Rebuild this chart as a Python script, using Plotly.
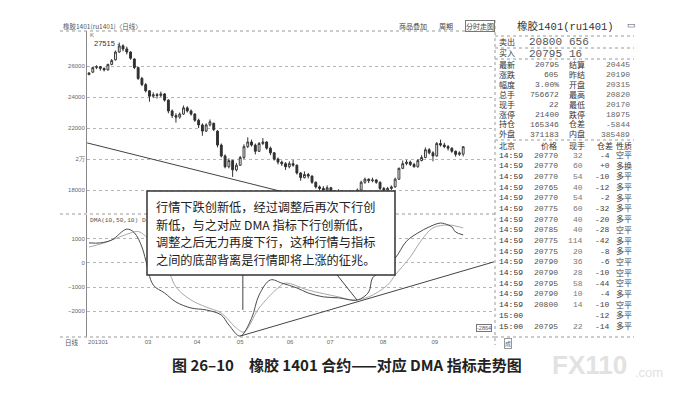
import plotly.graph_objects as go

W, H = 678, 403

# ── 日线 K 线 (trading-day index 0..99) ─────────────────────────────
opens = [25450, 25600, 25900, 25950, 25850, 25750, 26100, 26400, 26900, 27300,
         27100, 26900, 26450, 25900, 25200, 24800, 24400, 24050, 24150, 24100,
         24200, 23800, 23100, 22800, 22700, 22900, 23300, 23100, 22900, 22500,
         22200, 21800, 22200, 22300, 21800, 20900, 20200, 19500, 19900, 19300,
         19600, 20100, 20800, 21100, 20900, 20500, 21000, 21100, 20700, 20400,
         20000, 19800, 19700, 19500, 19700, 19600, 19100, 18800, 19000, 18900,
         18500, 18200, 18100, 18000, 18150, 17900, 17800, 17900, 17850, 17750,
         17900, 17850, 18000, 18500, 18700, 18600, 18650, 18500, 18100, 18000,
         18100, 18200, 18700, 19400, 19700, 19800, 19650, 19500, 19900, 20100,
         20600, 20400, 20200, 21000, 20900, 20800, 20700, 20500, 20300, 20315]
highs = [25600, 25950, 26050, 26000, 25900, 26150, 26450, 27000, 27515, 27400,
         27250, 26950, 26500, 25950, 25300, 24900, 24450, 24300, 24250, 24350,
         24250, 23850, 23200, 22950, 23000, 23450, 23400, 23200, 22950, 22600,
         22300, 22300, 22550, 22350, 21850, 21000, 20300, 20050, 19950, 19750,
         20200, 20950, 21400, 21250, 21000, 21100, 21350, 21150, 20800, 20450,
         20100, 19900, 19800, 19850, 19950, 19650, 19150, 19200, 19100, 18950,
         18550, 18300, 18250, 18300, 18200, 18000, 18050, 18000, 17950, 18000,
         17950, 18100, 18600, 18800, 18750, 18800, 18700, 18550, 18200, 18200,
         18300, 18800, 19450, 19900, 19950, 19900, 19750, 20000, 20250, 20750,
         20700, 20500, 21100, 21250, 21050, 20900, 20750, 20550, 20500, 20820]
lows = [25400, 25550, 25800, 25700, 25650, 25700, 26050, 26350, 26850, 26950,
        26750, 26400, 25800, 25100, 24700, 24300, 23700, 23950, 23900, 24000,
        23700, 22950, 22650, 22350, 22600, 22850, 23000, 22800, 22400, 22000,
        21500, 21750, 22100, 21800, 20750, 20100, 19400, 19400, 18850, 19200,
        19550, 20000, 20700, 20800, 20300, 20450, 20900, 20600, 20250, 19900,
        19650, 19550, 19300, 19400, 19500, 19000, 18600, 18750, 18750, 18400,
        18100, 17950, 17900, 17950, 17800, 17700, 17750, 17750, 17650, 17700,
        17750, 17800, 17950, 18400, 18450, 18500, 18400, 18000, 17900, 17900,
        18000, 18150, 18650, 19350, 19600, 19550, 19450, 19450, 19850, 20050,
        20300, 19850, 20150, 20800, 20700, 20550, 20400, 20150, 20200, 20170]
closes = [25550, 25900, 25950, 25850, 25750, 26100, 26350, 26900, 27300, 27100,
          26900, 26500, 25900, 25200, 24800, 24400, 24050, 24150, 24100, 24200,
          23800, 23100, 22800, 22700, 22900, 23300, 23100, 22900, 22500, 22200,
          21800, 22200, 22400, 21900, 20900, 20200, 19500, 19900, 19300, 19600,
          20100, 20800, 21100, 20900, 20500, 21000, 21100, 20700, 20400, 20000,
          19800, 19700, 19500, 19700, 19600, 19100, 18800, 19000, 18900, 18500,
          18200, 18100, 18000, 18150, 17900, 17800, 17900, 17850, 17750, 17900,
          17850, 18000, 18500, 18700, 18600, 18650, 18500, 18100, 18000, 18100,
          18200, 18700, 19400, 19700, 19800, 19650, 19500, 19900, 20100, 20600,
          20400, 20200, 21000, 20900, 20800, 20700, 20500, 20300, 20400, 20795]

month_pos = [2.4, 15.6, 28.6, 40, 53.2, 63.8, 77.8, 91.5]
month_labels = ["201301", "03", "04", "05", "06", "07", "08", "09"]

price_ticks = [26000, 24000, 22000, 20000, 18000]
price_tick_labels = ["26000", "24000", "22000", "2万", "18000"]
dma_ticks = [1000, 0, -1000, -2000]

# ── DMA(10,50,10) ───────────────────────────────────────────────────
dma_x = [0, 3, 6, 10, 12, 14, 15, 17, 20, 23, 27, 31, 35, 37, 40, 43, 45, 48,
         51, 55, 58, 62, 66, 71, 74, 75, 77, 81, 84, 87, 90, 93, 95, 96, 97, 99]
dma_y = [830, 830, 950, 1400, 1250, 660, 120, -910, -1240, -1610, -1860, -1940,
         -2150, -2560, -3020, -2290, -1320, -700, -830, -1030, -1240, -1400,
         -1440, -1530, -1200, -620, -370, 200, 900, 1240, 1490, 1650, 1570,
         1490, 1280, 1160]
ama_x = [0, 4, 8, 11, 13, 15, 20, 23, 27, 31, 35, 39, 41, 45, 50, 52, 58, 66,
         70, 74, 79, 81, 85, 88, 91, 95, 98, 99]
ama_y = [660, 830, 1070, 1240, 1300, 1100, 120, -990, -1530, -1820, -2070,
         -2690, -2850, -1860, -1030, -830, -1120, -1400, -1530, -1400, -910,
         -500, 250, 950, 1450, 1570, 1490, 1450]

# lines drawn by hand in the book
trend_price_x = [-0.5, 60]
trend_price_y = [21040, 17356]
trend_dma_x = [40, 107.2]
trend_dma_y = [-3020, 50]
pointer_a_x = [40.7, 40.7]
pointer_a_y = [-300, -1940]
pointer_b_x = [64.6, 70.9]
pointer_b_y = [-290, -1530]

# ── 报价板 ──────────────────────────────────────────────────────────
left_labels = ["最新", "涨跌", "幅度", "总手", "现手", "涨停", "持仓", "外盘"]
left_values = ["20795", "605", "3.00%", "756672", "22", "21400", "165346", "371183"]
right_labels = ["结算", "昨结", "开盘", "最高", "最低", "跌停", "仓差", "内盘"]
right_values = ["20445", "20190", "20315", "20820", "20170", "18975", "-5844", "385489"]

tick_times = ["14:59"] * 15 + ["15:00", "15:00"]
tick_prices = ["20770", "20770", "20770", "20765", "20770", "20775", "20770", "20785",
               "20775", "20775", "20790", "20790", "20795", "20790", "20800", "", "20795"]
tick_vols = ["32", "60", "54", "40", "54", "60", "40", "40", "114", "20", "36", "28",
             "58", "10", "14", "", "22"]
tick_oi = ["-4", "+0", "-10", "-12", "-2", "-32", "-20", "-28", "-42", "-8", "-6",
           "-10", "-44", "-4", "-10", "-12", "-14"]
tick_types = ["空平", "多换", "多平", "多平", "多平", "多平", "多平", "空平", "多平", "多平",
              "空平", "空平", "空平", "多平", "空平", "多平", "多平"]

note_lines = ["行情下跌创新低，经过调整后再次下行创",
              "新低，与之对应 DMA 指标下行创新低，",
              "调整之后无力再度下行，这种行情与指标",
              "之间的底部背离是行情即将上涨的征兆。"]

MONO = "Liberation Mono, Noto Sans CJK SC"
CJK = "Noto Sans CJK SC"


def px(x):
    return x / W


def py(y):
    return 1 - y / H


fig = go.Figure()

fig.add_trace(go.Candlestick(
    x=list(range(len(closes))), open=opens, high=highs, low=lows, close=closes,
    increasing=dict(line=dict(color="#383838", width=1), fillcolor="#ffffff"),
    decreasing=dict(line=dict(color="#303030", width=1), fillcolor="#303030"),
    whiskerwidth=0, hoverinfo="skip", showlegend=False, xaxis="x", yaxis="y",
))
fig.add_trace(go.Scatter(x=trend_price_x, y=trend_price_y, mode="lines",
                         line=dict(color="#444", width=1), hoverinfo="skip",
                         showlegend=False, xaxis="x", yaxis="y"))

fig.add_trace(go.Scatter(x=ama_x, y=ama_y, mode="lines", line_shape="spline",
                         line=dict(color="#a8a8a8", width=1), hoverinfo="skip",
                         showlegend=False, xaxis="x2", yaxis="y2"))
fig.add_trace(go.Scatter(x=dma_x, y=dma_y, mode="lines", line_shape="spline",
                         line=dict(color="#4a4a4a", width=1), hoverinfo="skip",
                         showlegend=False, xaxis="x2", yaxis="y2"))
for lx, ly in [(trend_dma_x, trend_dma_y), (pointer_a_x, pointer_a_y),
               (pointer_b_x, pointer_b_y)]:
    fig.add_trace(go.Scatter(x=lx, y=ly, mode="lines",
                             line=dict(color="#444", width=1), hoverinfo="skip",
                             showlegend=False, xaxis="x2", yaxis="y2"))

x_dom = [px(87), px(494)]
x_rng = [-0.53, 107.15]
tick_font = dict(size=6, color="#666", family="Liberation Sans")

fig.update_layout(
    width=W, height=H,
    margin=dict(l=0, r=0, t=0, b=0),
    paper_bgcolor="white", plot_bgcolor="white",
    showlegend=False,
    xaxis=dict(domain=x_dom, range=x_rng, showticklabels=False, showgrid=False,
               zeroline=False, rangeslider=dict(visible=False), anchor="y"),
    yaxis=dict(domain=[py(213), py(31)], range=[16518, 28258], tickvals=price_ticks,
               ticktext=price_tick_labels, tickfont=tick_font, ticks="",
               showgrid=True, gridcolor="#b5b5b5", griddash="dot", gridwidth=1,
               zeroline=False, showline=True, linecolor="#8a8a8a", anchor="x"),
    xaxis2=dict(domain=x_dom, range=x_rng, tickvals=month_pos, ticktext=month_labels,
                tickfont=tick_font, ticks="", showgrid=False, zeroline=False,
                anchor="y2"),
    yaxis2=dict(domain=[py(337), py(215)], range=[-3058, 1983], tickvals=dma_ticks,
                tickfont=tick_font, ticks="", showgrid=True, gridcolor="#b5b5b5",
                griddash="dot", zeroline=False, showline=True, linecolor="#8a8a8a",
                anchor="x2"),
)

# chart frame: dotted borders
dotted = dict(color="#9a9a9a", width=1, dash="dot")
for y in [31, 214, 337]:
    fig.add_shape(type="line", xref="paper", yref="paper", x0=px(60), x1=px(495),
                  y0=py(y), y1=py(y), line=dotted)
fig.add_shape(type="line", xref="paper", yref="paper", x0=px(495), x1=px(495),
              y0=py(20), y1=py(345), line=dotted)
for y in [36, 48, 59, 140, 337]:
    fig.add_shape(type="line", xref="paper", yref="paper", x0=px(495), x1=px(634),
                  y0=py(y), y1=py(y), line=dotted)

# annotation box covering the chart
fig.add_shape(type="rect", xref="paper", yref="paper", layer="above",
              x0=px(147), x1=px(395), y0=py(275), y1=py(191),
              fillcolor="white", line=dict(color="#333", width=1.5))


def txt(x, y, s, size=8, color="#333", anchor="left", family=MONO, **kw):
    fig.add_annotation(x=px(x), y=py(y), xref="paper", yref="paper", text=s,
                       showarrow=False, xanchor=anchor, yanchor="middle",
                       font=dict(size=size, color=color, family=family),
                       borderpad=0, **kw)


for k, line in enumerate(note_lines):
    txt(155, 207 + 17.7 * k, line, size=12.2, color="#222", family=CJK)

# chart header and labels
txt(62, 26, "橡胶1401(ru1401)〈日线〉", size=6.5, color="#555", family=CJK)
txt(398, 26, "商品叠加", size=7, color="#444", family=CJK)
txt(438, 26, "周期", size=7, color="#444", family=CJK)
txt(465, 26, "分时走图", size=7, color="#444", family=CJK,
    bordercolor="#777", borderwidth=1)
txt(89, 35, "K", size=6, color="#666", family="Liberation Sans")
txt(93, 43, "27515 -", size=7.5, color="#333", family="Liberation Sans")
txt(89, 220, "DMA(10,50,10) D", size=6.2, color="#555", family="Liberation Mono")
txt(64, 342, "日线", size=6.5, color="#555", family=CJK)
txt(476, 328, "-2864", size=5.5, color="#555", family="Liberation Sans",
    bordercolor="#777", borderwidth=1)

# quote board
txt(516, 27, "橡胶1401(ru1401)", size=10.5, color="#333")
txt(626, 26, "▭", size=9, color="#555")
txt(498, 42, "卖出", size=8)
txt(528, 42, "20800", size=11, color="#555")
txt(568, 42, "656", size=11, color="#555")
txt(498, 54, "买入", size=8)
txt(528, 54, "20795", size=11, color="#555")
txt(568, 54, "16", size=11, color="#555")
for k in range(len(left_labels)):
    y = 65 + 9.9 * k
    txt(498, y, left_labels[k], size=8)
    txt(560, y, left_values[k], size=8, color="#555", anchor="right")
    txt(568, y, right_labels[k], size=8)
    txt(631, y, right_values[k], size=8, color="#666", anchor="right")

txt(498, 146, "北京", size=8)
txt(540, 146, "价格", size=8)
txt(568, 146, "现手", size=8)
txt(596, 146, "仓差", size=8)
txt(615, 146, "性质", size=8)
for k in range(len(tick_times)):
    y = 155 + 10.69 * k
    txt(498, y, tick_times[k], size=8)
    txt(533, y, tick_prices[k], size=8, color="#555")
    txt(584, y, tick_vols[k], size=8, color="#777", anchor="right")
    txt(611, y, tick_oi[k], size=8, color="#444", anchor="right")
    txt(615, y, tick_types[k], size=8, color="#444")
txt(504, 343, "成", size=6, color="#666", family=CJK, bordercolor="#999", borderwidth=1)

# caption and watermark
fig.add_annotation(x=px(347), y=py(364), xref="paper", yref="paper",
                   text="<b>图 26–10　橡胶 1401 合约——对应 DMA 指标走势图</b>",
                   showarrow=False, xanchor="center", yanchor="middle",
                   font=dict(size=15, color="#222", family=CJK))
fig.add_annotation(x=px(551), y=py(365), xref="paper", yref="paper",
                   text="<b>FX110</b>", showarrow=False, xanchor="left",
                   yanchor="middle", borderpad=0,
                   font=dict(size=26, color="#e2e2e2", family="Liberation Sans"))
fig.add_annotation(x=px(634), y=py(372), xref="paper", yref="paper",
                   text=".com", showarrow=False, xanchor="left", yanchor="middle",
                   borderpad=0,
                   font=dict(size=13, color="#e2e2e2", family="Liberation Sans"))

fig.write_html("out.html", config={"displayModeBar": False},
               post_script="document.body.style.margin='0';")
